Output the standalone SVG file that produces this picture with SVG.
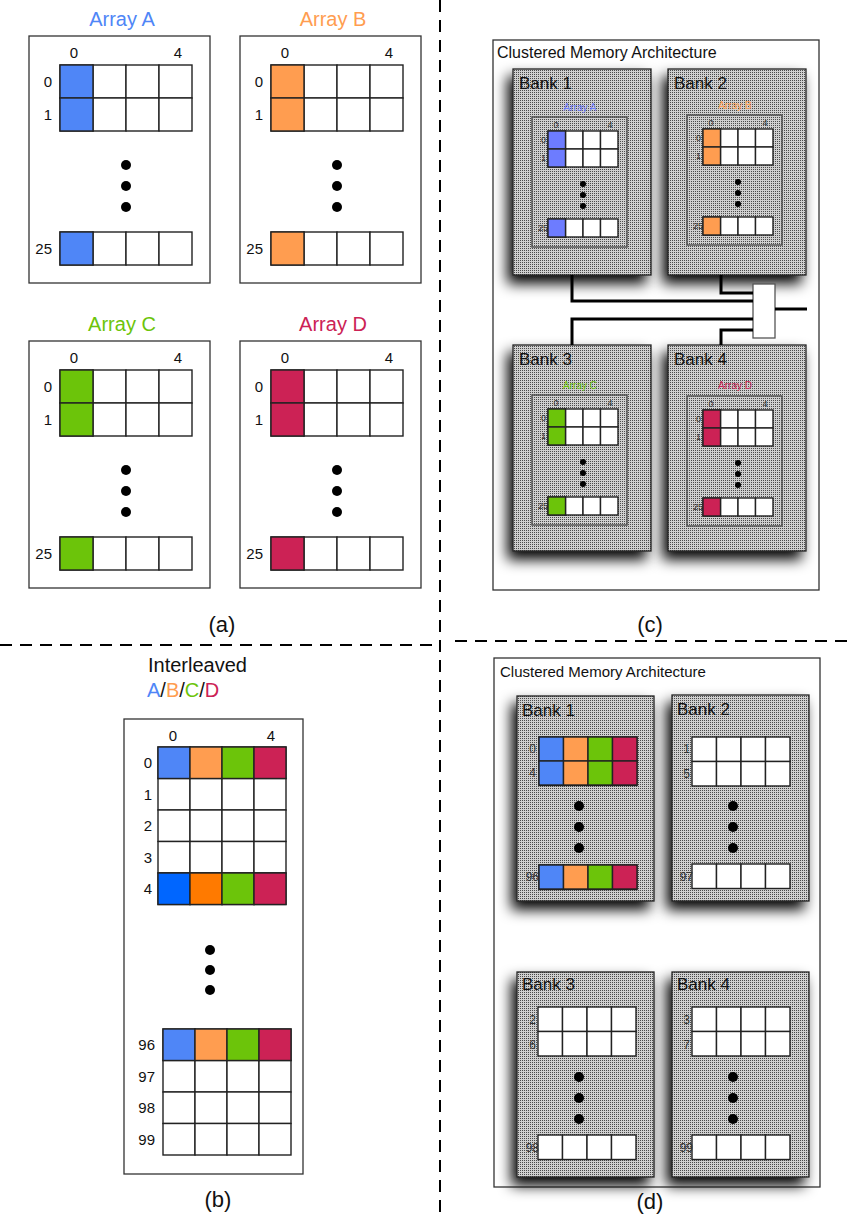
<svg xmlns="http://www.w3.org/2000/svg" xmlns:xlink="http://www.w3.org/1999/xlink" width="850" height="1220" viewBox="0 0 850 1220">
  <style>
    text { font-family: "Liberation Sans", Arial, sans-serif; fill: #111; }
    .frame { fill: #fff; stroke: #333; stroke-width: 1.3; }
    .cell { fill: #fff; stroke: #222; stroke-width: 1.4; }
    .ccell { stroke: #222; stroke-width: 1.4; }
    .dash { stroke: #000; stroke-width: 2; stroke-dasharray: 12 8; fill: none; }
    .title { font-size: 20px; text-anchor: middle; }
    .col { font-size: 15px; text-anchor: middle; }
    .row { font-size: 15px; text-anchor: end; }
    .cap { font-size: 22px; text-anchor: middle; }
    .bank { fill: url(#dots); stroke: #222; stroke-width: 1.3; filter: url(#shadow); }
    .inner { fill: url(#dots); stroke: #555; stroke-width: 1.5; }
    .bname { font-size: 17px; }
    .small { font-size: 9px; fill: #333; }
    .smallr { font-size: 9px; fill: #333; text-anchor: end; }
    .wire { stroke: #000; stroke-width: 3; fill: none; }
    .A { fill: #4f86f7; } .B { fill: #ff9d50; } .C { fill: #6cc40a; } .D { fill: #cc2255; }
    .A2 { fill: #0066ff; } .B2 { fill: #ff7a00; }
    .Ac { fill: #6d7cff; }
  </style>
  <defs>
    <pattern id="dots" width="2" height="2" patternUnits="userSpaceOnUse">
      <rect width="2" height="2" fill="#cfcfcf"/>
      <rect width="1" height="1" fill="#4a4a4a"/>
    </pattern>
    <filter id="shadow" x="-25%" y="-20%" width="150%" height="145%">
      <feGaussianBlur in="SourceAlpha" stdDeviation="7"/>
      <feOffset dx="-5" dy="8" result="b"/>
      <feComponentTransfer><feFuncA type="linear" slope="1"/></feComponentTransfer>
      <feMerge><feMergeNode/><feMergeNode in="SourceGraphic"/></feMerge>
    </filter>
    <!-- cell rows -->
    <g id="a-row">
      <rect class="cell" x="0" y="0" width="33" height="33"/>
      <rect class="cell" x="33" y="0" width="33" height="33"/>
      <rect class="cell" x="66" y="0" width="33" height="33"/>
      <rect class="cell" x="99" y="0" width="33" height="33"/>
    </g>
    <g id="b-row">
      <rect class="cell" x="0" y="0" width="32" height="31.5"/>
      <rect class="cell" x="32" y="0" width="32" height="31.5"/>
      <rect class="cell" x="64" y="0" width="32" height="31.5"/>
      <rect class="cell" x="96" y="0" width="32" height="31.5"/>
    </g>
    <g id="c-row">
      <rect class="cell" x="0" y="0" width="17.5" height="18"/>
      <rect class="cell" x="17.5" y="0" width="17.5" height="18"/>
      <rect class="cell" x="35" y="0" width="17.5" height="18"/>
      <rect class="cell" x="52.5" y="0" width="17.5" height="18"/>
    </g>
    <g id="d-row">
      <rect class="cell" x="0" y="0" width="24.5" height="24.5"/>
      <rect class="cell" x="24.5" y="0" width="24.5" height="24.5"/>
      <rect class="cell" x="49" y="0" width="24.5" height="24.5"/>
      <rect class="cell" x="73.5" y="0" width="24.5" height="24.5"/>
    </g>
    <!-- one 26-row array of panel (a) -->
    <g id="arr-a">
      <rect class="frame" width="181" height="247"/>
      <text class="col" x="45" y="22">0</text>
      <text class="col" x="149" y="22">4</text>
      <text class="row" x="23" y="51">0</text>
      <text class="row" x="23" y="84">1</text>
      <text class="row" x="23" y="218">25</text>
      <use xlink:href="#a-row" x="31" y="29"/>
      <use xlink:href="#a-row" x="31" y="62"/>
      <use xlink:href="#a-row" x="31" y="196"/>
      <circle cx="97" cy="129" r="5"/>
      <circle cx="97" cy="150" r="5"/>
      <circle cx="97" cy="171" r="5"/>
    </g>
    <!-- small array drawn inside a bank of panel (c) -->
    <g id="arr-c">
      <rect class="inner" width="95" height="130"/>
      <text class="small" x="24" y="11" text-anchor="middle">0</text>
      <text class="small" x="78" y="11" text-anchor="middle">4</text>
      <text class="smallr" x="14" y="26">0</text>
      <text class="smallr" x="14" y="44">1</text>
      <text class="smallr" x="16" y="114">25</text>
      <use xlink:href="#c-row" x="16" y="14"/>
      <use xlink:href="#c-row" x="16" y="32"/>
      <use xlink:href="#c-row" x="16" y="102"/>
      <circle cx="51" cy="67" r="3"/>
      <circle cx="51" cy="78" r="3"/>
      <circle cx="51" cy="89" r="3"/>
    </g>
  </defs>

  <rect width="850" height="1220" fill="#fff"/>

  <!-- quadrant separators -->
  <g id="separators">
    <line class="dash" x1="440" y1="0" x2="440" y2="1220"/>
    <line class="dash" x1="0" y1="645" x2="432" y2="645"/>
    <line class="dash" x1="455" y1="641" x2="850" y2="641"/>
  </g>

  <!-- (a) four separate arrays -->
  <g id="array-a" transform="translate(29,36)">
    <text class="title A" x="93" y="-10">Array A</text>
    <use xlink:href="#arr-a"/>
    <rect class="ccell A" x="31" y="29" width="33" height="33"/>
    <rect class="ccell A" x="31" y="62" width="33" height="33"/>
    <rect class="ccell A" x="31" y="196" width="33" height="33"/>
  </g>
  <g id="array-b" transform="translate(240,36)">
    <text class="title B" x="93" y="-10">Array B</text>
    <use xlink:href="#arr-a"/>
    <rect class="ccell B" x="31" y="29" width="33" height="33"/>
    <rect class="ccell B" x="31" y="62" width="33" height="33"/>
    <rect class="ccell B" x="31" y="196" width="33" height="33"/>
  </g>
  <g id="array-c" transform="translate(29,341)">
    <text class="title C" x="93" y="-10">Array C</text>
    <use xlink:href="#arr-a"/>
    <rect class="ccell C" x="31" y="29" width="33" height="33"/>
    <rect class="ccell C" x="31" y="62" width="33" height="33"/>
    <rect class="ccell C" x="31" y="196" width="33" height="33"/>
  </g>
  <g id="array-d" transform="translate(240,341)">
    <text class="title D" x="93" y="-10">Array D</text>
    <use xlink:href="#arr-a"/>
    <rect class="ccell D" x="31" y="29" width="33" height="33"/>
    <rect class="ccell D" x="31" y="62" width="33" height="33"/>
    <rect class="ccell D" x="31" y="196" width="33" height="33"/>
  </g>
  <text class="cap" x="222" y="632">(a)</text>

  <!-- (b) interleaved array -->
  <g id="interleaved">
    <text x="148" y="672" style="font-size:20px">Interleaved</text>
    <text x="147" y="697" style="font-size:20px"><tspan class="A">A</tspan>/<tspan class="B">B</tspan>/<tspan class="C">C</tspan>/<tspan class="D">D</tspan></text>
    <rect class="frame" x="124" y="719" width="179" height="455"/>
    <text class="col" x="173" y="741">0</text>
    <text class="col" x="271" y="741">4</text>
    <use xlink:href="#b-row" x="158" y="747"/>
    <use xlink:href="#b-row" x="158" y="778.5"/>
    <use xlink:href="#b-row" x="158" y="810"/>
    <use xlink:href="#b-row" x="158" y="841.5"/>
    <use xlink:href="#b-row" x="158" y="873"/>
    <rect class="ccell A" x="158" y="747" width="32" height="31.5"/>
    <rect class="ccell B" x="190" y="747" width="32" height="31.5"/>
    <rect class="ccell C" x="222" y="747" width="32" height="31.5"/>
    <rect class="ccell D" x="254" y="747" width="32" height="31.5"/>
    <rect class="ccell A2" x="158" y="873" width="32" height="31.5"/>
    <rect class="ccell B2" x="190" y="873" width="32" height="31.5"/>
    <rect class="ccell C" x="222" y="873" width="32" height="31.5"/>
    <rect class="ccell D" x="254" y="873" width="32" height="31.5"/>
    <text class="row" x="152" y="768">0</text>
    <text class="row" x="152" y="800">1</text>
    <text class="row" x="152" y="831">2</text>
    <text class="row" x="152" y="863">3</text>
    <text class="row" x="152" y="894">4</text>
    <circle cx="210" cy="950" r="5"/>
    <circle cx="210" cy="970" r="5"/>
    <circle cx="210" cy="990" r="5"/>
    <use xlink:href="#b-row" x="163" y="1029"/>
    <use xlink:href="#b-row" x="163" y="1060.5"/>
    <use xlink:href="#b-row" x="163" y="1092"/>
    <use xlink:href="#b-row" x="163" y="1123.5"/>
    <rect class="ccell A" x="163" y="1029" width="32" height="31.5"/>
    <rect class="ccell B" x="195" y="1029" width="32" height="31.5"/>
    <rect class="ccell C" x="227" y="1029" width="32" height="31.5"/>
    <rect class="ccell D" x="259" y="1029" width="32" height="31.5"/>
    <text class="row" x="155" y="1050">96</text>
    <text class="row" x="155" y="1082">97</text>
    <text class="row" x="155" y="1113">98</text>
    <text class="row" x="155" y="1145">99</text>
  </g>
  <text class="cap" x="218" y="1207">(b)</text>

  <!-- (c) one array per bank -->
  <g id="cluster-c">
    <rect class="frame" x="493" y="40" width="326" height="550"/>
    <text x="497" y="58" style="font-size:16px">Clustered Memory Architecture</text>
  </g>
  <g id="c-bank1">
    <rect class="bank" x="513" y="69" width="138" height="206"/>
    <text class="bname" x="519" y="89">Bank 1</text>
    <text class="small Ac" x="580" y="111" text-anchor="middle" style="font-size:10px">Array A</text>
    <use xlink:href="#arr-c" transform="translate(532,117)"/>
    <rect class="ccell Ac" x="548" y="131" width="17.5" height="18"/>
    <rect class="ccell Ac" x="548" y="149" width="17.5" height="18"/>
    <rect class="ccell Ac" x="548" y="219" width="17.5" height="18"/>
  </g>
  <g id="c-bank2">
    <rect class="bank" x="668" y="69" width="138" height="206"/>
    <text class="bname" x="674" y="89">Bank 2</text>
    <text class="small B" x="735" y="109" text-anchor="middle" style="font-size:10px">Array B</text>
    <use xlink:href="#arr-c" transform="translate(687,115)"/>
    <rect class="ccell B" x="703" y="129" width="17.5" height="18"/>
    <rect class="ccell B" x="703" y="147" width="17.5" height="18"/>
    <rect class="ccell B" x="703" y="217" width="17.5" height="18"/>
  </g>
  <g id="c-bank3">
    <rect class="bank" x="513" y="345" width="138" height="206"/>
    <text class="bname" x="519" y="365">Bank 3</text>
    <text class="small C" x="580" y="389" text-anchor="middle" style="font-size:10px">Array C</text>
    <use xlink:href="#arr-c" transform="translate(532,395)"/>
    <rect class="ccell C" x="548" y="409" width="17.5" height="18"/>
    <rect class="ccell C" x="548" y="427" width="17.5" height="18"/>
    <rect class="ccell C" x="548" y="497" width="17.5" height="18"/>
  </g>
  <g id="c-bank4">
    <rect class="bank" x="668" y="345" width="138" height="206"/>
    <text class="bname" x="674" y="365">Bank 4</text>
    <text class="small D" x="735" y="389" text-anchor="middle" style="font-size:10px">Array D</text>
    <use xlink:href="#arr-c" transform="translate(687,396)"/>
    <rect class="ccell D" x="703" y="410" width="17.5" height="18"/>
    <rect class="ccell D" x="703" y="428" width="17.5" height="18"/>
    <rect class="ccell D" x="703" y="498" width="17.5" height="18"/>
  </g>
  <g id="c-switch">
    <rect x="753" y="284" width="22" height="54" fill="#fff" stroke="#555" stroke-width="1.3"/>
  </g>
  <g id="connectors">
    <polyline class="wire" points="572,275 572,301 753,301"/>
    <polyline class="wire" points="721,275 721,293 753,293"/>
    <polyline class="wire" points="572,345 572,319 753,319"/>
    <polyline class="wire" points="721,345 721,330 753,330"/>
    <line class="wire" x1="775" y1="309" x2="807" y2="309"/>
  </g>
  <text class="cap" x="650" y="632">(c)</text>

  <!-- (d) interleaved rows spread across banks -->
  <g id="cluster-d">
    <rect class="frame" x="494" y="658" width="326" height="529"/>
    <text x="500" y="677" style="font-size:15px">Clustered Memory Architecture</text>
  </g>
  <g id="d-bank1">
    <rect class="bank" x="517" y="696" width="137" height="205"/>
    <text class="bname" x="522" y="716">Bank 1</text>
    <use xlink:href="#d-row" x="539" y="737"/>
    <use xlink:href="#d-row" x="539" y="761"/>
    <use xlink:href="#d-row" x="539" y="865"/>
    <rect class="ccell A" x="539" y="737" width="24.5" height="24"/>
    <rect class="ccell B" x="563.5" y="737" width="24.5" height="24"/>
    <rect class="ccell C" x="588" y="737" width="24.5" height="24"/>
    <rect class="ccell D" x="612.5" y="737" width="24.5" height="24"/>
    <rect class="ccell A" x="539" y="761" width="24.5" height="24"/>
    <rect class="ccell B" x="563.5" y="761" width="24.5" height="24"/>
    <rect class="ccell C" x="588" y="761" width="24.5" height="24"/>
    <rect class="ccell D" x="612.5" y="761" width="24.5" height="24"/>
    <rect class="ccell A" x="539" y="865" width="24.5" height="24"/>
    <rect class="ccell B" x="563.5" y="865" width="24.5" height="24"/>
    <rect class="ccell C" x="588" y="865" width="24.5" height="24"/>
    <rect class="ccell D" x="612.5" y="865" width="24.5" height="24"/>
    <text class="smallr" x="536" y="753" style="font-size:12px">0</text>
    <text class="smallr" x="536" y="777" style="font-size:12px">4</text>
    <text class="smallr" x="539" y="881" style="font-size:12px">96</text>
    <circle cx="579" cy="806" r="5"/>
    <circle cx="579" cy="827" r="5"/>
    <circle cx="579" cy="848" r="5"/>
  </g>
  <g id="d-bank2">
    <rect class="bank" x="672" y="695" width="137" height="206"/>
    <text class="bname" x="677" y="715">Bank 2</text>
    <use xlink:href="#d-row" x="692" y="737"/>
    <use xlink:href="#d-row" x="692" y="761.5"/>
    <use xlink:href="#d-row" x="692" y="864"/>
    <text class="smallr" x="690" y="753" style="font-size:12px">1</text>
    <text class="smallr" x="690" y="778" style="font-size:12px">5</text>
    <text class="smallr" x="693" y="881" style="font-size:12px">97</text>
    <circle cx="733" cy="806" r="5"/>
    <circle cx="733" cy="827" r="5"/>
    <circle cx="733" cy="848" r="5"/>
  </g>
  <g id="d-bank3">
    <rect class="bank" x="517" y="972" width="137" height="205"/>
    <text class="bname" x="522" y="990">Bank 3</text>
    <use xlink:href="#d-row" x="538" y="1007"/>
    <use xlink:href="#d-row" x="538" y="1031.5"/>
    <use xlink:href="#d-row" x="538" y="1135"/>
    <text class="smallr" x="536" y="1024" style="font-size:12px">2</text>
    <text class="smallr" x="536" y="1049" style="font-size:12px">6</text>
    <text class="smallr" x="539" y="1152" style="font-size:12px">98</text>
    <circle cx="579" cy="1077" r="5"/>
    <circle cx="579" cy="1098" r="5"/>
    <circle cx="579" cy="1119" r="5"/>
  </g>
  <g id="d-bank4">
    <rect class="bank" x="672" y="972" width="137" height="205"/>
    <text class="bname" x="677" y="990">Bank 4</text>
    <use xlink:href="#d-row" x="692" y="1007"/>
    <use xlink:href="#d-row" x="692" y="1031.5"/>
    <use xlink:href="#d-row" x="692" y="1135"/>
    <text class="smallr" x="690" y="1024" style="font-size:12px">3</text>
    <text class="smallr" x="690" y="1049" style="font-size:12px">7</text>
    <text class="smallr" x="693" y="1152" style="font-size:12px">99</text>
    <circle cx="733" cy="1077" r="5"/>
    <circle cx="733" cy="1098" r="5"/>
    <circle cx="733" cy="1119" r="5"/>
  </g>
  <text class="cap" x="650" y="1209">(d)</text>
</svg>
